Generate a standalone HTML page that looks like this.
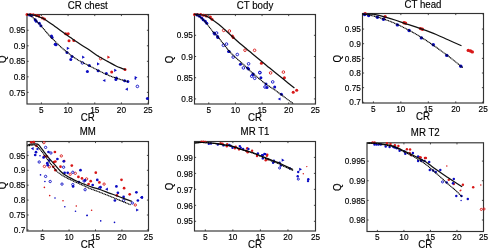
<!DOCTYPE html><html><head><meta charset="utf-8"><style>html,body{margin:0;padding:0;background:#fff;width:488px;height:249px;overflow:hidden}svg{display:block}#w{will-change:transform;width:488px;height:249px}text{font-family:"Liberation Sans", sans-serif;fill:#000;stroke:#000;stroke-width:0.15px}</style></head><body>
<div id="w">
<svg xmlns="http://www.w3.org/2000/svg" width="488" height="249" viewBox="0 0 488 249">
<rect x="27.0" y="14.5" width="121.50" height="89.50" fill="none" stroke="#333" stroke-width="1.15"/>
<clipPath id="c0"><rect x="25.0" y="10.5" width="127.5" height="94.5"/></clipPath>
<g clip-path="url(#c0)">
<circle cx="27.0" cy="14.6" r="1.50" fill="#d81818"/>
<circle cx="30.5" cy="14.6" r="1.50" fill="#d81818"/>
<circle cx="33.2" cy="14.8" r="1.50" fill="#d81818"/>
<circle cx="36.5" cy="15.5" r="1.50" fill="#d81818"/>
<circle cx="38.8" cy="16.1" r="1.50" fill="#d81818"/>
<circle cx="42.5" cy="18.0" r="1.50" fill="#d81818"/>
<circle cx="44.5" cy="19.0" r="1.50" fill="#d81818"/>
<circle cx="65.7" cy="33.7" r="1.50" fill="#d81818"/>
<circle cx="68.2" cy="33.7" r="1.50" fill="#d81818"/>
<circle cx="69.0" cy="40.7" r="1.50" fill="#d81818"/>
<circle cx="73.8" cy="40.4" r="1.50" fill="#d81818"/>
<circle cx="100.7" cy="58.6" r="1.30" fill="none" stroke="#d81818" stroke-width="0.9"/>
<path d="M107.40 55.60L110.20 57.20L107.40 58.80Z" fill="#d81818"/>
<circle cx="111.7" cy="71.9" r="1.50" fill="#d81818"/>
<circle cx="125.0" cy="69.5" r="1.50" fill="#d81818"/>
<circle cx="29.5" cy="15.0" r="1.50" fill="#0c0cc4"/>
<circle cx="31.5" cy="15.6" r="1.50" fill="#0c0cc4"/>
<circle cx="35.2" cy="19.7" r="1.50" fill="#0c0cc4"/>
<circle cx="36.2" cy="21.2" r="1.50" fill="#0c0cc4"/>
<circle cx="39.3" cy="23.3" r="1.50" fill="#0c0cc4"/>
<circle cx="40.9" cy="25.8" r="1.50" fill="#0c0cc4"/>
<circle cx="52.1" cy="37.6" r="1.50" fill="#0c0cc4"/>
<circle cx="51.5" cy="36.0" r="1.50" fill="#0c0cc4"/>
<circle cx="55.2" cy="44.2" r="1.50" fill="#0c0cc4"/>
<circle cx="56.0" cy="44.8" r="1.50" fill="#0c0cc4"/>
<path d="M66.80 46.70L69.60 48.30L66.80 49.90Z" fill="#0c0cc4"/>
<circle cx="67.0" cy="52.4" r="1.50" fill="#0c0cc4"/>
<circle cx="72.0" cy="56.4" r="1.50" fill="#0c0cc4"/>
<circle cx="70.8" cy="59.6" r="1.50" fill="#0c0cc4"/>
<path d="M82.10 55.60L84.90 57.20L82.10 58.80Z" fill="#0c0cc4"/>
<circle cx="82.4" cy="62.9" r="1.30" fill="none" stroke="#0c0cc4" stroke-width="0.9"/>
<circle cx="89.3" cy="65.5" r="1.50" fill="#0c0cc4"/>
<circle cx="87.4" cy="71.6" r="1.50" fill="#0c0cc4"/>
<path d="M97.00 62.30L99.80 63.90L97.00 65.50Z" fill="#0c0cc4"/>
<circle cx="98.1" cy="70.7" r="1.50" fill="#0c0cc4"/>
<circle cx="106.3" cy="73.4" r="1.50" fill="#0c0cc4"/>
<path d="M114.20 68.70L117.00 70.30L114.20 71.90Z" fill="#0c0cc4"/>
<circle cx="116.4" cy="78.0" r="1.50" fill="#0c0cc4"/>
<path d="M105.40 78.90L102.60 80.50L105.40 82.10Z" fill="#0c0cc4"/>
<circle cx="124.6" cy="80.7" r="1.50" fill="#0c0cc4"/>
<circle cx="127.9" cy="81.6" r="1.50" fill="#0c0cc4"/>
<path d="M134.70 75.90L137.50 77.50L134.70 79.10Z" fill="#0c0cc4"/>
<circle cx="115.9" cy="79.4" r="1.50" fill="#0c0cc4"/>
<circle cx="137.4" cy="86.4" r="1.30" fill="none" stroke="#0c0cc4" stroke-width="0.9"/>
<path d="M127.90 87.60L125.10 89.20L127.90 90.80Z" fill="#0c0cc4"/>
<circle cx="147.4" cy="98.5" r="1.50" fill="#0c0cc4"/>
<circle cx="135.4" cy="78.8" r="0.90" fill="#0c0cc4"/>
<path fill="none" stroke="#111" stroke-width="1.25" stroke-linejoin="round" d="M27.00,14.50 C27.67,14.52 29.50,14.42 31.00,14.60 C32.50,14.78 34.50,15.17 36.00,15.60 C37.50,16.03 38.52,16.55 40.00,17.20 C41.48,17.85 42.47,18.00 44.90,19.50 C47.33,21.00 51.37,23.92 54.60,26.20 C57.83,28.48 61.65,31.32 64.30,33.20 C66.95,35.08 68.65,36.20 70.50,37.50 C72.35,38.80 72.77,39.23 75.40,41.00 C78.03,42.77 82.68,45.70 86.30,48.10 C89.92,50.50 94.82,53.88 97.10,55.40 C99.38,56.92 98.18,56.17 100.00,57.20 C101.82,58.23 105.33,60.13 108.00,61.60 C110.67,63.07 113.72,64.88 116.00,66.00 C118.28,67.12 120.08,67.70 121.70,68.30 C123.32,68.90 125.03,69.38 125.70,69.60"/>
<path fill="none" stroke="#000" stroke-width="1.15" stroke-dasharray="1.2 0.45" d="M27.00,14.50 C27.50,14.65 28.67,14.57 30.00,15.40 C31.33,16.23 33.18,17.78 35.00,19.50 C36.82,21.22 38.65,23.18 40.90,25.70 C43.15,28.22 46.65,32.50 48.50,34.60 C50.35,36.70 50.12,36.40 52.00,38.30 C53.88,40.20 57.47,43.83 59.80,46.00 C62.13,48.17 63.77,49.48 66.00,51.30 C68.23,53.12 70.87,55.27 73.20,56.90 C75.53,58.53 77.53,59.72 80.00,61.10 C82.47,62.48 85.33,63.83 88.00,65.20 C90.67,66.57 93.33,67.95 96.00,69.30 C98.67,70.65 101.33,72.07 104.00,73.30 C106.67,74.53 109.33,75.70 112.00,76.70 C114.67,77.70 117.35,78.48 120.00,79.30 C122.65,80.12 126.58,81.22 127.90,81.60"/>
</g>
<path d="M41.40 104.0v-1.6M41.40 14.5v1.6" stroke="#333" stroke-width="0.9"/>
<text transform="translate(41.40 112.65) scale(1 1.08)" font-size="8.3" text-anchor="middle">5</text>
<path d="M68.08 104.0v-1.6M68.08 14.5v1.6" stroke="#333" stroke-width="0.9"/>
<text transform="translate(68.08 112.65) scale(1 1.08)" font-size="8.3" text-anchor="middle">10</text>
<path d="M94.75 104.0v-1.6M94.75 14.5v1.6" stroke="#333" stroke-width="0.9"/>
<text transform="translate(94.75 112.65) scale(1 1.08)" font-size="8.3" text-anchor="middle">15</text>
<path d="M121.42 104.0v-1.6M121.42 14.5v1.6" stroke="#333" stroke-width="0.9"/>
<text transform="translate(121.42 112.65) scale(1 1.08)" font-size="8.3" text-anchor="middle">20</text>
<path d="M148.10 104.0v-1.6M148.10 14.5v1.6" stroke="#333" stroke-width="0.9"/>
<text transform="translate(148.10 112.65) scale(1 1.08)" font-size="8.3" text-anchor="middle">25</text>
<path d="M27.0 92.36h1.6M148.5 92.36h-1.6" stroke="#333" stroke-width="0.9"/>
<text transform="translate(25.40 95.53) scale(1 1.08)" font-size="8.3" text-anchor="end">0.75</text>
<path d="M27.0 76.84h1.6M148.5 76.84h-1.6" stroke="#333" stroke-width="0.9"/>
<text transform="translate(25.40 80.01) scale(1 1.08)" font-size="8.3" text-anchor="end">0.8</text>
<path d="M27.0 61.31h1.6M148.5 61.31h-1.6" stroke="#333" stroke-width="0.9"/>
<text transform="translate(25.40 64.49) scale(1 1.08)" font-size="8.3" text-anchor="end">0.85</text>
<path d="M27.0 45.79h1.6M148.5 45.79h-1.6" stroke="#333" stroke-width="0.9"/>
<text transform="translate(25.40 48.97) scale(1 1.08)" font-size="8.3" text-anchor="end">0.9</text>
<path d="M27.0 30.27h1.6M148.5 30.27h-1.6" stroke="#333" stroke-width="0.9"/>
<text transform="translate(25.40 33.44) scale(1 1.08)" font-size="8.3" text-anchor="end">0.95</text>
<text transform="translate(87.75 8.54) scale(1 1.1)" font-size="9.7" text-anchor="middle">CR chest</text>
<text transform="translate(87.75 120.94) scale(1 1.1)" font-size="9.7" text-anchor="middle">CR</text>
<text transform="translate(6.29 59.30) rotate(-90) scale(1 1.1)" x="0" y="0" font-size="9.7" text-anchor="middle">Q</text>
<rect x="194.5" y="14.5" width="121.00" height="89.50" fill="none" stroke="#333" stroke-width="1.15"/>
<clipPath id="c1"><rect x="192.5" y="10.5" width="127.0" height="94.5"/></clipPath>
<g clip-path="url(#c1)">
<circle cx="194.5" cy="14.6" r="1.50" fill="#d81818"/>
<circle cx="197.5" cy="14.6" r="1.50" fill="#d81818"/>
<circle cx="200.7" cy="14.6" r="1.50" fill="#d81818"/>
<circle cx="203.5" cy="15.2" r="1.50" fill="#d81818"/>
<circle cx="206.3" cy="16.1" r="1.50" fill="#d81818"/>
<circle cx="210.4" cy="17.1" r="1.50" fill="#d81818"/>
<circle cx="212.0" cy="19.2" r="1.50" fill="#d81818"/>
<circle cx="223.7" cy="30.4" r="1.30" fill="none" stroke="#d81818" stroke-width="0.9"/>
<circle cx="229.4" cy="31.0" r="1.30" fill="none" stroke="#d81818" stroke-width="0.9"/>
<circle cx="232.4" cy="36.1" r="1.50" fill="#d81818"/>
<circle cx="233.2" cy="37.6" r="1.50" fill="#d81818"/>
<circle cx="245.0" cy="50.2" r="1.30" fill="none" stroke="#d81818" stroke-width="0.9"/>
<circle cx="254.6" cy="50.3" r="1.30" fill="none" stroke="#d81818" stroke-width="0.9"/>
<circle cx="261.4" cy="63.3" r="1.50" fill="#d81818"/>
<circle cx="270.6" cy="72.9" r="1.30" fill="none" stroke="#d81818" stroke-width="0.9"/>
<circle cx="283.4" cy="72.1" r="1.30" fill="none" stroke="#d81818" stroke-width="0.9"/>
<circle cx="284.4" cy="77.8" r="1.50" fill="#d81818"/>
<circle cx="293.2" cy="92.3" r="1.50" fill="#d81818"/>
<circle cx="296.7" cy="90.2" r="1.50" fill="#d81818"/>
<circle cx="197.1" cy="15.1" r="1.50" fill="#0c0cc4"/>
<circle cx="199.5" cy="16.3" r="1.50" fill="#0c0cc4"/>
<circle cx="201.7" cy="18.1" r="1.50" fill="#0c0cc4"/>
<circle cx="203.2" cy="19.7" r="1.50" fill="#0c0cc4"/>
<circle cx="205.3" cy="21.2" r="1.50" fill="#0c0cc4"/>
<circle cx="206.8" cy="23.3" r="1.50" fill="#0c0cc4"/>
<circle cx="214.0" cy="33.0" r="1.50" fill="#0c0cc4"/>
<circle cx="216.6" cy="33.0" r="1.30" fill="none" stroke="#0c0cc4" stroke-width="0.9"/>
<circle cx="217.6" cy="36.6" r="1.50" fill="#0c0cc4"/>
<circle cx="214.7" cy="34.0" r="1.50" fill="#0c0cc4"/>
<circle cx="217.8" cy="37.6" r="1.50" fill="#0c0cc4"/>
<circle cx="223.4" cy="45.3" r="1.30" fill="none" stroke="#0c0cc4" stroke-width="0.9"/>
<circle cx="226.5" cy="44.1" r="1.30" fill="none" stroke="#0c0cc4" stroke-width="0.9"/>
<circle cx="229.1" cy="51.4" r="1.50" fill="#0c0cc4"/>
<circle cx="233.2" cy="57.1" r="1.30" fill="none" stroke="#0c0cc4" stroke-width="0.9"/>
<circle cx="237.3" cy="54.5" r="1.30" fill="none" stroke="#0c0cc4" stroke-width="0.9"/>
<circle cx="228.6" cy="51.5" r="1.50" fill="#0c0cc4"/>
<circle cx="240.4" cy="64.3" r="1.50" fill="#0c0cc4"/>
<circle cx="248.6" cy="63.8" r="1.30" fill="none" stroke="#0c0cc4" stroke-width="0.9"/>
<circle cx="243.4" cy="67.9" r="1.30" fill="none" stroke="#0c0cc4" stroke-width="0.9"/>
<circle cx="248.6" cy="69.0" r="1.50" fill="#0c0cc4"/>
<circle cx="253.2" cy="74.1" r="1.50" fill="#0c0cc4"/>
<circle cx="259.8" cy="72.5" r="1.30" fill="none" stroke="#0c0cc4" stroke-width="0.9"/>
<circle cx="247.6" cy="68.0" r="1.50" fill="#0c0cc4"/>
<circle cx="252.7" cy="74.7" r="1.50" fill="#0c0cc4"/>
<circle cx="251.7" cy="76.2" r="1.30" fill="none" stroke="#0c0cc4" stroke-width="0.9"/>
<circle cx="254.7" cy="78.3" r="1.30" fill="none" stroke="#0c0cc4" stroke-width="0.9"/>
<circle cx="259.9" cy="72.7" r="1.30" fill="none" stroke="#0c0cc4" stroke-width="0.9"/>
<circle cx="260.9" cy="77.8" r="1.50" fill="#0c0cc4"/>
<circle cx="266.0" cy="83.9" r="1.50" fill="#0c0cc4"/>
<circle cx="265.0" cy="87.0" r="1.30" fill="none" stroke="#0c0cc4" stroke-width="0.9"/>
<circle cx="267.0" cy="87.5" r="1.50" fill="#0c0cc4"/>
<circle cx="272.7" cy="81.9" r="1.30" fill="none" stroke="#0c0cc4" stroke-width="0.9"/>
<circle cx="274.7" cy="87.0" r="1.50" fill="#0c0cc4"/>
<circle cx="281.4" cy="94.3" r="1.50" fill="#0c0cc4"/>
<path d="M280.50 97.40L277.70 99.00L280.50 100.60Z" fill="#0c0cc4"/>
<path fill="none" stroke="#111" stroke-width="1.25" stroke-linejoin="round" d="M194.50,14.20 C195.42,14.25 198.03,14.18 200.00,14.50 C201.97,14.82 204.30,15.27 206.30,16.10 C208.30,16.93 209.95,18.13 212.00,19.50 C214.05,20.87 216.43,22.58 218.60,24.30 C220.77,26.02 222.78,27.82 225.00,29.80 C227.22,31.78 229.40,33.92 231.90,36.20 C234.40,38.48 237.45,41.30 240.00,43.50 C242.55,45.70 245.20,47.73 247.20,49.40 C249.20,51.07 250.13,51.93 252.00,53.50 C253.87,55.07 255.98,56.82 258.40,58.80 C260.82,60.78 263.87,63.23 266.50,65.40 C269.13,67.57 271.30,69.43 274.20,71.80 C277.10,74.17 280.53,76.90 283.90,79.60 C287.27,82.30 292.65,86.60 294.40,88.00"/>
<path fill="none" stroke="#000" stroke-width="1.15" stroke-dasharray="1.2 0.45" d="M194.50,14.20 C195.08,14.47 196.75,15.08 198.00,15.80 C199.25,16.52 200.53,17.17 202.00,18.50 C203.47,19.83 205.13,21.80 206.80,23.80 C208.47,25.80 210.20,28.37 212.00,30.50 C213.80,32.63 215.93,34.68 217.60,36.60 C219.27,38.52 220.08,39.60 222.00,42.00 C223.92,44.40 226.98,48.57 229.10,51.00 C231.22,53.43 232.05,54.10 234.70,56.60 C237.35,59.10 241.75,63.00 245.00,66.00 C248.25,69.00 250.70,71.58 254.20,74.60 C257.70,77.62 262.42,81.43 266.00,84.10 C269.58,86.77 272.53,88.37 275.70,90.60 C278.87,92.83 282.08,95.33 285.00,97.50 C287.92,99.67 291.83,102.58 293.20,103.60"/>
</g>
<path d="M208.75 104.0v-1.6M208.75 14.5v1.6" stroke="#333" stroke-width="0.9"/>
<text transform="translate(208.75 112.65) scale(1 1.08)" font-size="8.3" text-anchor="middle">5</text>
<path d="M235.40 104.0v-1.6M235.40 14.5v1.6" stroke="#333" stroke-width="0.9"/>
<text transform="translate(235.40 112.65) scale(1 1.08)" font-size="8.3" text-anchor="middle">10</text>
<path d="M262.05 104.0v-1.6M262.05 14.5v1.6" stroke="#333" stroke-width="0.9"/>
<text transform="translate(262.05 112.65) scale(1 1.08)" font-size="8.3" text-anchor="middle">15</text>
<path d="M288.70 104.0v-1.6M288.70 14.5v1.6" stroke="#333" stroke-width="0.9"/>
<text transform="translate(288.70 112.65) scale(1 1.08)" font-size="8.3" text-anchor="middle">20</text>
<path d="M315.35 104.0v-1.6M315.35 14.5v1.6" stroke="#333" stroke-width="0.9"/>
<text transform="translate(315.35 112.65) scale(1 1.08)" font-size="8.3" text-anchor="middle">25</text>
<path d="M194.5 98.90h1.6M315.5 98.90h-1.6" stroke="#333" stroke-width="0.9"/>
<text transform="translate(192.90 102.07) scale(1 1.08)" font-size="8.3" text-anchor="end">0.8</text>
<path d="M194.5 77.70h1.6M315.5 77.70h-1.6" stroke="#333" stroke-width="0.9"/>
<text transform="translate(192.90 80.87) scale(1 1.08)" font-size="8.3" text-anchor="end">0.85</text>
<path d="M194.5 56.50h1.6M315.5 56.50h-1.6" stroke="#333" stroke-width="0.9"/>
<text transform="translate(192.90 59.67) scale(1 1.08)" font-size="8.3" text-anchor="end">0.9</text>
<path d="M194.5 35.30h1.6M315.5 35.30h-1.6" stroke="#333" stroke-width="0.9"/>
<text transform="translate(192.90 38.47) scale(1 1.08)" font-size="8.3" text-anchor="end">0.95</text>
<text transform="translate(255.00 8.54) scale(1 1.1)" font-size="9.7" text-anchor="middle">CT body</text>
<text transform="translate(255.00 120.94) scale(1 1.1)" font-size="9.7" text-anchor="middle">CR</text>
<text transform="translate(173.19 59.50) rotate(-90) scale(1 1.1)" x="0" y="0" font-size="9.7" text-anchor="middle">Q</text>
<rect x="362.5" y="13.5" width="121.00" height="89.50" fill="none" stroke="#333" stroke-width="1.15"/>
<clipPath id="c2"><rect x="360.5" y="9.5" width="127.0" height="94.5"/></clipPath>
<g clip-path="url(#c2)">
<circle cx="365.1" cy="13.8" r="1.72" fill="#d81818"/>
<circle cx="385.1" cy="16.7" r="1.72" fill="#d81818"/>
<circle cx="404.0" cy="22.8" r="1.72" fill="#d81818"/>
<circle cx="405.5" cy="23.1" r="1.72" fill="#d81818"/>
<circle cx="422.4" cy="29.2" r="1.72" fill="#d81818"/>
<circle cx="420.5" cy="28.6" r="1.72" fill="#d81818"/>
<circle cx="468.3" cy="50.4" r="1.72" fill="#d81818"/>
<circle cx="470.5" cy="51.0" r="1.72" fill="#d81818"/>
<circle cx="472.3" cy="51.9" r="1.72" fill="#d81818"/>
<circle cx="364.6" cy="14.6" r="1.72" fill="#0c0cc4"/>
<circle cx="368.7" cy="15.6" r="1.72" fill="#0c0cc4"/>
<circle cx="377.4" cy="17.2" r="1.72" fill="#0c0cc4"/>
<circle cx="383.5" cy="19.2" r="1.72" fill="#0c0cc4"/>
<circle cx="397.4" cy="24.9" r="1.72" fill="#0c0cc4"/>
<circle cx="409.1" cy="30.5" r="1.72" fill="#0c0cc4"/>
<circle cx="421.4" cy="37.9" r="1.72" fill="#0c0cc4"/>
<circle cx="433.3" cy="44.8" r="1.72" fill="#0c0cc4"/>
<circle cx="446.8" cy="55.4" r="1.72" fill="#0c0cc4"/>
<circle cx="460.8" cy="66.2" r="1.72" fill="#0c0cc4"/>
<path fill="none" stroke="#111" stroke-width="1.25" stroke-linejoin="round" d="M362.50,14.10 C363.95,14.10 368.62,13.92 371.20,14.10 C373.78,14.28 375.60,14.68 378.00,15.20 C380.40,15.72 382.77,16.40 385.60,17.20 C388.43,18.00 391.77,18.93 395.00,20.00 C398.23,21.07 402.33,22.72 405.00,23.60 C407.67,24.48 408.17,24.38 411.00,25.30 C413.83,26.22 417.80,27.57 422.00,29.10 C426.20,30.63 431.87,32.72 436.20,34.50 C440.53,36.28 443.78,37.92 448.00,39.80 C452.22,41.68 459.25,44.80 461.50,45.80"/>
<path fill="none" stroke="#000" stroke-width="1.15" stroke-dasharray="1.2 0.45" d="M362.50,14.00 C364.02,14.27 368.55,14.92 371.60,15.60 C374.65,16.28 377.75,17.15 380.80,18.10 C383.85,19.05 386.87,20.12 389.90,21.30 C392.93,22.48 395.97,23.78 399.00,25.20 C402.03,26.62 405.05,28.18 408.10,29.80 C411.15,31.42 414.25,33.10 417.30,34.90 C420.35,36.70 423.37,38.62 426.40,40.60 C429.43,42.58 432.47,44.67 435.50,46.80 C438.53,48.93 441.55,51.13 444.60,53.40 C447.65,55.67 450.75,58.00 453.80,60.40 C456.85,62.80 461.38,66.57 462.90,67.80"/>
</g>
<path d="M373.40 103.0v-1.6M373.40 13.5v1.6" stroke="#333" stroke-width="0.9"/>
<text transform="translate(373.40 111.65) scale(1 1.08)" font-size="8.3" text-anchor="middle">5</text>
<path d="M400.85 103.0v-1.6M400.85 13.5v1.6" stroke="#333" stroke-width="0.9"/>
<text transform="translate(400.85 111.65) scale(1 1.08)" font-size="8.3" text-anchor="middle">10</text>
<path d="M428.30 103.0v-1.6M428.30 13.5v1.6" stroke="#333" stroke-width="0.9"/>
<text transform="translate(428.30 111.65) scale(1 1.08)" font-size="8.3" text-anchor="middle">15</text>
<path d="M455.75 103.0v-1.6M455.75 13.5v1.6" stroke="#333" stroke-width="0.9"/>
<text transform="translate(455.75 111.65) scale(1 1.08)" font-size="8.3" text-anchor="middle">20</text>
<path d="M483.20 103.0v-1.6M483.20 13.5v1.6" stroke="#333" stroke-width="0.9"/>
<text transform="translate(483.20 111.65) scale(1 1.08)" font-size="8.3" text-anchor="middle">25</text>
<path d="M362.5 102.30h1.6M483.5 102.30h-1.6" stroke="#333" stroke-width="0.9"/>
<text transform="translate(360.90 105.47) scale(1 1.08)" font-size="8.3" text-anchor="end">0.7</text>
<path d="M362.5 87.65h1.6M483.5 87.65h-1.6" stroke="#333" stroke-width="0.9"/>
<text transform="translate(360.90 90.82) scale(1 1.08)" font-size="8.3" text-anchor="end">0.75</text>
<path d="M362.5 73.00h1.6M483.5 73.00h-1.6" stroke="#333" stroke-width="0.9"/>
<text transform="translate(360.90 76.17) scale(1 1.08)" font-size="8.3" text-anchor="end">0.8</text>
<path d="M362.5 58.35h1.6M483.5 58.35h-1.6" stroke="#333" stroke-width="0.9"/>
<text transform="translate(360.90 61.52) scale(1 1.08)" font-size="8.3" text-anchor="end">0.85</text>
<path d="M362.5 43.70h1.6M483.5 43.70h-1.6" stroke="#333" stroke-width="0.9"/>
<text transform="translate(360.90 46.87) scale(1 1.08)" font-size="8.3" text-anchor="end">0.9</text>
<path d="M362.5 29.05h1.6M483.5 29.05h-1.6" stroke="#333" stroke-width="0.9"/>
<text transform="translate(360.90 32.22) scale(1 1.08)" font-size="8.3" text-anchor="end">0.95</text>
<text transform="translate(423.00 7.54) scale(1 1.1)" font-size="9.7" text-anchor="middle">CT head</text>
<text transform="translate(423.00 119.94) scale(1 1.1)" font-size="9.7" text-anchor="middle">CR</text>
<text transform="translate(340.99 58.60) rotate(-90) scale(1 1.1)" x="0" y="0" font-size="9.7" text-anchor="middle">Q</text>
<rect x="27.0" y="141.5" width="121.50" height="89.50" fill="none" stroke="#333" stroke-width="1.15"/>
<clipPath id="c3"><rect x="25.0" y="137.5" width="127.5" height="94.5"/></clipPath>
<g clip-path="url(#c3)">
<circle cx="31.3" cy="142.3" r="1.35" fill="#d81818"/>
<circle cx="33.8" cy="142.2" r="1.35" fill="#d81818"/>
<circle cx="43.9" cy="142.6" r="1.17" fill="none" stroke="#d81818" stroke-width="0.9"/>
<circle cx="36.4" cy="145.8" r="1.35" fill="#d81818"/>
<circle cx="44.4" cy="156.4" r="1.35" fill="#d81818"/>
<circle cx="46.9" cy="156.4" r="1.35" fill="#d81818"/>
<circle cx="54.9" cy="152.0" r="1.35" fill="#d81818"/>
<circle cx="61.3" cy="155.9" r="1.17" fill="none" stroke="#d81818" stroke-width="0.9"/>
<circle cx="55.4" cy="161.5" r="1.35" fill="#d81818"/>
<circle cx="54.1" cy="162.0" r="1.35" fill="#d81818"/>
<circle cx="44.4" cy="166.4" r="1.17" fill="none" stroke="#d81818" stroke-width="0.9"/>
<circle cx="49.3" cy="166.8" r="1.17" fill="none" stroke="#d81818" stroke-width="0.9"/>
<circle cx="53.3" cy="166.8" r="1.35" fill="#d81818"/>
<circle cx="64.1" cy="161.0" r="1.35" fill="#d81818"/>
<circle cx="60.5" cy="166.7" r="1.35" fill="#d81818"/>
<circle cx="71.8" cy="165.6" r="1.35" fill="#d81818"/>
<circle cx="55.4" cy="170.2" r="1.35" fill="#d81818"/>
<circle cx="70.2" cy="174.3" r="1.17" fill="none" stroke="#d81818" stroke-width="0.9"/>
<circle cx="75.3" cy="173.3" r="1.17" fill="none" stroke="#d81818" stroke-width="0.9"/>
<circle cx="78.4" cy="176.9" r="1.35" fill="#d81818"/>
<circle cx="82.0" cy="178.4" r="1.35" fill="#d81818"/>
<circle cx="86.6" cy="178.9" r="1.17" fill="none" stroke="#d81818" stroke-width="0.9"/>
<circle cx="88.6" cy="184.0" r="1.35" fill="#d81818"/>
<circle cx="90.7" cy="181.2" r="1.35" fill="#d81818"/>
<circle cx="95.8" cy="172.7" r="1.35" fill="#d81818"/>
<circle cx="99.4" cy="182.4" r="1.35" fill="#d81818"/>
<circle cx="104.1" cy="184.1" r="1.17" fill="none" stroke="#d81818" stroke-width="0.9"/>
<circle cx="121.5" cy="179.8" r="1.35" fill="#d81818"/>
<circle cx="124.1" cy="188.2" r="1.35" fill="#d81818"/>
<circle cx="129.7" cy="194.3" r="1.35" fill="#d81818"/>
<circle cx="116.9" cy="195.4" r="1.35" fill="#d81818"/>
<circle cx="135.3" cy="205.0" r="1.17" fill="none" stroke="#d81818" stroke-width="0.9"/>
<circle cx="44.4" cy="187.4" r="0.81" fill="#d81818"/>
<circle cx="49.7" cy="195.6" r="0.81" fill="#d81818"/>
<circle cx="63.0" cy="200.8" r="0.81" fill="#d81818"/>
<circle cx="76.3" cy="206.0" r="0.81" fill="#d81818"/>
<circle cx="91.6" cy="210.2" r="0.81" fill="#d81818"/>
<path d="M33.60 147.00L30.80 148.60L33.60 150.20Z" fill="#0c0cc4"/>
<path d="M38.40 147.40L35.60 149.00L38.40 150.60Z" fill="#0c0cc4"/>
<circle cx="36.0" cy="152.2" r="1.35" fill="#0c0cc4"/>
<circle cx="35.2" cy="155.0" r="1.35" fill="#0c0cc4"/>
<circle cx="39.2" cy="162.0" r="1.17" fill="none" stroke="#0c0cc4" stroke-width="0.9"/>
<circle cx="40.0" cy="155.8" r="0.81" fill="#0c0cc4"/>
<circle cx="43.6" cy="157.4" r="1.35" fill="#0c0cc4"/>
<circle cx="45.6" cy="147.4" r="1.17" fill="none" stroke="#0c0cc4" stroke-width="0.9"/>
<circle cx="48.5" cy="152.0" r="1.35" fill="#0c0cc4"/>
<circle cx="50.9" cy="153.0" r="1.17" fill="none" stroke="#0c0cc4" stroke-width="0.9"/>
<circle cx="49.3" cy="160.4" r="1.35" fill="#0c0cc4"/>
<circle cx="47.3" cy="163.2" r="1.35" fill="#0c0cc4"/>
<circle cx="47.7" cy="165.2" r="1.35" fill="#0c0cc4"/>
<circle cx="57.4" cy="159.0" r="1.35" fill="#0c0cc4"/>
<circle cx="63.8" cy="161.3" r="1.35" fill="#0c0cc4"/>
<circle cx="63.6" cy="167.2" r="1.17" fill="none" stroke="#0c0cc4" stroke-width="0.9"/>
<circle cx="64.6" cy="172.8" r="1.35" fill="#0c0cc4"/>
<circle cx="67.7" cy="172.8" r="1.35" fill="#0c0cc4"/>
<circle cx="72.8" cy="172.3" r="1.17" fill="none" stroke="#0c0cc4" stroke-width="0.9"/>
<circle cx="80.5" cy="170.2" r="1.35" fill="#0c0cc4"/>
<circle cx="40.5" cy="174.9" r="0.81" fill="#0c0cc4"/>
<circle cx="45.6" cy="176.4" r="1.17" fill="none" stroke="#0c0cc4" stroke-width="0.9"/>
<circle cx="44.9" cy="181.5" r="0.81" fill="#0c0cc4"/>
<circle cx="50.2" cy="181.5" r="1.17" fill="none" stroke="#0c0cc4" stroke-width="0.9"/>
<circle cx="62.0" cy="184.1" r="1.17" fill="none" stroke="#0c0cc4" stroke-width="0.9"/>
<circle cx="72.8" cy="184.6" r="1.17" fill="none" stroke="#0c0cc4" stroke-width="0.9"/>
<circle cx="78.9" cy="182.0" r="1.35" fill="#0c0cc4"/>
<circle cx="84.1" cy="181.0" r="1.17" fill="none" stroke="#0c0cc4" stroke-width="0.9"/>
<circle cx="85.0" cy="180.4" r="1.35" fill="#0c0cc4"/>
<circle cx="73.1" cy="186.4" r="1.35" fill="#0c0cc4"/>
<circle cx="55.0" cy="198.0" r="0.81" fill="#0c0cc4"/>
<circle cx="64.8" cy="206.7" r="0.81" fill="#0c0cc4"/>
<circle cx="75.5" cy="211.3" r="0.81" fill="#0c0cc4"/>
<circle cx="87.0" cy="215.6" r="0.81" fill="#0c0cc4"/>
<circle cx="85.1" cy="189.7" r="1.17" fill="none" stroke="#0c0cc4" stroke-width="0.9"/>
<circle cx="97.3" cy="179.9" r="1.35" fill="#0c0cc4"/>
<circle cx="92.7" cy="185.0" r="1.35" fill="#0c0cc4"/>
<circle cx="99.4" cy="188.0" r="1.17" fill="none" stroke="#0c0cc4" stroke-width="0.9"/>
<circle cx="100.5" cy="187.2" r="1.35" fill="#0c0cc4"/>
<path d="M107.90 187.60L105.10 189.20L107.90 190.80Z" fill="#0c0cc4"/>
<circle cx="116.4" cy="186.4" r="1.35" fill="#0c0cc4"/>
<circle cx="117.9" cy="192.8" r="1.35" fill="#0c0cc4"/>
<circle cx="114.9" cy="200.5" r="1.35" fill="#0c0cc4"/>
<circle cx="123.6" cy="196.9" r="1.35" fill="#0c0cc4"/>
<circle cx="123.6" cy="200.5" r="1.17" fill="none" stroke="#0c0cc4" stroke-width="0.9"/>
<circle cx="136.4" cy="192.3" r="1.35" fill="#0c0cc4"/>
<path d="M142.70 195.80L139.90 197.40L142.70 199.00Z" fill="#0c0cc4"/>
<circle cx="137.9" cy="200.5" r="1.35" fill="#0c0cc4"/>
<circle cx="132.3" cy="203.0" r="1.17" fill="none" stroke="#0c0cc4" stroke-width="0.9"/>
<path d="M136.10 208.40L138.90 210.00L136.10 211.60Z" fill="#0c0cc4"/>
<circle cx="87.1" cy="215.3" r="0.81" fill="#0c0cc4"/>
<circle cx="100.7" cy="220.9" r="0.81" fill="#0c0cc4"/>
<circle cx="114.5" cy="222.4" r="0.81" fill="#0c0cc4"/>
<circle cx="141.9" cy="197.4" r="1.35" fill="#0c0cc4"/>
<path fill="none" stroke="#111" stroke-width="1.25" stroke-linejoin="round" d="M27.30,145.40 C27.92,145.20 29.28,144.42 31.00,144.20 C32.72,143.98 35.93,143.50 37.60,144.10 C39.27,144.70 39.93,146.52 41.00,147.80 C42.07,149.08 43.00,150.47 44.00,151.80 C45.00,153.13 45.97,154.50 47.00,155.80 C48.03,157.10 48.98,158.22 50.20,159.60 C51.42,160.98 52.58,162.17 54.30,164.10 C56.02,166.03 58.62,169.33 60.50,171.20 C62.38,173.07 63.90,174.15 65.60,175.30 C67.30,176.45 68.80,177.12 70.70,178.10 C72.60,179.08 74.60,180.13 77.00,181.20 C79.40,182.27 82.60,183.52 85.10,184.50 C87.60,185.48 89.52,186.27 92.00,187.10 C94.48,187.93 97.00,188.47 100.00,189.50 C103.00,190.53 106.67,192.05 110.00,193.30 C113.33,194.55 116.37,195.65 120.00,197.00 C123.63,198.35 129.83,200.67 131.80,201.40"/>
<path fill="none" stroke="#000" stroke-width="1.15" stroke-dasharray="1.2 0.45" d="M27.30,146.00 C27.92,145.88 29.75,145.47 31.00,145.30 C32.25,145.13 33.72,144.75 34.80,145.00 C35.88,145.25 36.57,146.00 37.50,146.80 C38.43,147.60 39.12,148.27 40.40,149.80 C41.68,151.33 43.93,154.25 45.20,156.00 C46.47,157.75 46.82,158.67 48.00,160.30 C49.18,161.93 50.80,163.95 52.30,165.80 C53.80,167.65 55.38,169.83 57.00,171.40 C58.62,172.97 60.17,174.00 62.00,175.20 C63.83,176.40 65.67,177.42 68.00,178.60 C70.33,179.78 73.33,181.10 76.00,182.30 C78.67,183.50 81.65,184.75 84.00,185.80 C86.35,186.85 87.43,187.52 90.10,188.60 C92.77,189.68 96.68,191.02 100.00,192.30 C103.32,193.58 106.67,194.95 110.00,196.30 C113.33,197.65 116.55,198.98 120.00,200.40 C123.45,201.82 128.92,204.07 130.70,204.80"/>
</g>
<path d="M42.60 231.0v-1.6M42.60 141.5v1.6" stroke="#333" stroke-width="0.9"/>
<text transform="translate(42.60 239.65) scale(1 1.08)" font-size="8.3" text-anchor="middle">5</text>
<path d="M69.05 231.0v-1.6M69.05 141.5v1.6" stroke="#333" stroke-width="0.9"/>
<text transform="translate(69.05 239.65) scale(1 1.08)" font-size="8.3" text-anchor="middle">10</text>
<path d="M95.50 231.0v-1.6M95.50 141.5v1.6" stroke="#333" stroke-width="0.9"/>
<text transform="translate(95.50 239.65) scale(1 1.08)" font-size="8.3" text-anchor="middle">15</text>
<path d="M121.95 231.0v-1.6M121.95 141.5v1.6" stroke="#333" stroke-width="0.9"/>
<text transform="translate(121.95 239.65) scale(1 1.08)" font-size="8.3" text-anchor="middle">20</text>
<path d="M148.40 231.0v-1.6M148.40 141.5v1.6" stroke="#333" stroke-width="0.9"/>
<text transform="translate(148.40 239.65) scale(1 1.08)" font-size="8.3" text-anchor="middle">25</text>
<path d="M27.0 229.90h1.6M148.5 229.90h-1.6" stroke="#333" stroke-width="0.9"/>
<text transform="translate(25.40 233.07) scale(1 1.08)" font-size="8.3" text-anchor="end">0.7</text>
<path d="M27.0 215.00h1.6M148.5 215.00h-1.6" stroke="#333" stroke-width="0.9"/>
<text transform="translate(25.40 218.17) scale(1 1.08)" font-size="8.3" text-anchor="end">0.75</text>
<path d="M27.0 200.10h1.6M148.5 200.10h-1.6" stroke="#333" stroke-width="0.9"/>
<text transform="translate(25.40 203.27) scale(1 1.08)" font-size="8.3" text-anchor="end">0.8</text>
<path d="M27.0 185.20h1.6M148.5 185.20h-1.6" stroke="#333" stroke-width="0.9"/>
<text transform="translate(25.40 188.37) scale(1 1.08)" font-size="8.3" text-anchor="end">0.85</text>
<path d="M27.0 170.30h1.6M148.5 170.30h-1.6" stroke="#333" stroke-width="0.9"/>
<text transform="translate(25.40 173.47) scale(1 1.08)" font-size="8.3" text-anchor="end">0.9</text>
<path d="M27.0 155.40h1.6M148.5 155.40h-1.6" stroke="#333" stroke-width="0.9"/>
<text transform="translate(25.40 158.57) scale(1 1.08)" font-size="8.3" text-anchor="end">0.95</text>
<text transform="translate(87.75 134.94) scale(1 1.1)" font-size="9.7" text-anchor="middle">MM</text>
<text transform="translate(87.75 247.94) scale(1 1.1)" font-size="9.7" text-anchor="middle">CR</text>
<text transform="translate(5.89 185.50) rotate(-90) scale(1 1.1)" x="0" y="0" font-size="9.7" text-anchor="middle">Q</text>
<rect x="194.5" y="141.5" width="121.00" height="89.50" fill="none" stroke="#333" stroke-width="1.15"/>
<clipPath id="c4"><rect x="192.5" y="137.5" width="127.0" height="94.5"/></clipPath>
<g clip-path="url(#c4)">
<circle cx="201.5" cy="141.8" r="1.20" fill="#d81818"/>
<circle cx="203.5" cy="141.7" r="1.20" fill="#d81818"/>
<circle cx="205.5" cy="142.0" r="1.20" fill="#d81818"/>
<circle cx="220.6" cy="143.3" r="1.20" fill="#d81818"/>
<circle cx="222.5" cy="143.6" r="1.20" fill="#d81818"/>
<circle cx="227.2" cy="144.1" r="1.20" fill="#d81818"/>
<circle cx="226.8" cy="146.2" r="1.20" fill="#d81818"/>
<circle cx="235.7" cy="146.6" r="1.20" fill="#d81818"/>
<circle cx="234.9" cy="148.2" r="1.20" fill="#d81818"/>
<circle cx="239.0" cy="149.4" r="1.20" fill="#d81818"/>
<circle cx="247.2" cy="148.2" r="1.20" fill="#d81818"/>
<circle cx="246.4" cy="150.7" r="1.20" fill="#d81818"/>
<circle cx="247.6" cy="152.3" r="1.20" fill="#d81818"/>
<circle cx="252.1" cy="150.7" r="1.20" fill="#d81818"/>
<circle cx="257.0" cy="156.0" r="1.20" fill="#d81818"/>
<circle cx="267.3" cy="154.8" r="1.20" fill="#d81818"/>
<circle cx="267.7" cy="159.3" r="1.20" fill="#d81818"/>
<circle cx="266.9" cy="155.7" r="1.20" fill="#d81818"/>
<circle cx="265.7" cy="160.2" r="1.20" fill="#d81818"/>
<circle cx="306.8" cy="166.6" r="0.72" fill="#d81818"/>
<circle cx="303.3" cy="173.7" r="0.72" fill="#d81818"/>
<circle cx="208.8" cy="143.7" r="1.20" fill="#0c0cc4"/>
<circle cx="211" cy="143.5" r="1.20" fill="#0c0cc4"/>
<circle cx="217.8" cy="144.6" r="1.20" fill="#0c0cc4"/>
<circle cx="223.5" cy="145.4" r="1.20" fill="#0c0cc4"/>
<circle cx="229.2" cy="145.0" r="1.20" fill="#0c0cc4"/>
<circle cx="232.5" cy="147.8" r="1.20" fill="#0c0cc4"/>
<circle cx="230.4" cy="145.7" r="1.20" fill="#0c0cc4"/>
<circle cx="239.8" cy="146.1" r="1.20" fill="#0c0cc4"/>
<circle cx="240.7" cy="147.8" r="1.20" fill="#0c0cc4"/>
<circle cx="243.1" cy="149.0" r="1.20" fill="#0c0cc4"/>
<circle cx="248.4" cy="149.0" r="1.20" fill="#0c0cc4"/>
<circle cx="257.9" cy="153.5" r="1.20" fill="#0c0cc4"/>
<circle cx="262.0" cy="155.2" r="1.20" fill="#0c0cc4"/>
<circle cx="264.4" cy="153.9" r="1.20" fill="#0c0cc4"/>
<circle cx="262.8" cy="158.4" r="1.20" fill="#0c0cc4"/>
<circle cx="262.8" cy="155.3" r="1.20" fill="#0c0cc4"/>
<circle cx="265.3" cy="154.1" r="1.20" fill="#0c0cc4"/>
<circle cx="273.9" cy="160.7" r="1.20" fill="#0c0cc4"/>
<circle cx="273.1" cy="162.7" r="1.20" fill="#0c0cc4"/>
<path d="M281.70 158.60L284.50 160.20L281.70 161.80Z" fill="#0c0cc4"/>
<circle cx="279.6" cy="162.7" r="1.20" fill="#0c0cc4"/>
<circle cx="280.9" cy="165.6" r="1.20" fill="#0c0cc4"/>
<circle cx="279.6" cy="168.0" r="1.04" fill="none" stroke="#0c0cc4" stroke-width="0.9"/>
<circle cx="289.9" cy="168.4" r="1.20" fill="#0c0cc4"/>
<path d="M299.20 167.70L302.00 169.30L299.20 170.90Z" fill="#0c0cc4"/>
<circle cx="298.2" cy="172.0" r="1.20" fill="#0c0cc4"/>
<circle cx="297.7" cy="176.3" r="1.20" fill="#0c0cc4"/>
<circle cx="298.3" cy="179.1" r="1.04" fill="none" stroke="#0c0cc4" stroke-width="0.9"/>
<circle cx="308.3" cy="179.3" r="1.20" fill="#0c0cc4"/>
<circle cx="308.0" cy="181.1" r="1.20" fill="#0c0cc4"/>
<path fill="none" stroke="#111" stroke-width="1.25" stroke-linejoin="round" d="M194.80,142.90 C196.03,142.83 198.92,142.43 202.20,142.50 C205.48,142.57 211.08,142.95 214.50,143.30 C217.92,143.65 220.12,144.22 222.70,144.60 C225.28,144.98 228.12,145.23 230.00,145.60 C231.88,145.97 232.33,146.27 234.00,146.80 C235.67,147.33 238.00,148.17 240.00,148.80 C242.00,149.43 243.70,149.90 246.00,150.60 C248.30,151.30 251.47,152.18 253.80,153.00 C256.13,153.82 258.08,154.72 260.00,155.50 C261.92,156.28 263.30,156.88 265.30,157.70 C267.30,158.52 269.82,159.57 272.00,160.40 C274.18,161.23 276.23,161.80 278.40,162.70 C280.57,163.60 282.55,164.67 285.00,165.80 C287.45,166.93 291.75,168.88 293.10,169.50"/>
<path fill="none" stroke="#000" stroke-width="1.15" stroke-dasharray="1.2 0.45" d="M194.80,142.90 C196.03,142.83 198.92,142.42 202.20,142.50 C205.48,142.58 211.08,143.03 214.50,143.40 C217.92,143.77 220.12,144.30 222.70,144.70 C225.28,145.10 228.12,145.42 230.00,145.80 C231.88,146.18 232.33,146.45 234.00,147.00 C235.67,147.55 238.00,148.43 240.00,149.10 C242.00,149.77 243.70,150.27 246.00,151.00 C248.30,151.73 251.47,152.65 253.80,153.50 C256.13,154.35 258.08,155.28 260.00,156.10 C261.92,156.92 263.30,157.55 265.30,158.40 C267.30,159.25 269.82,160.33 272.00,161.20 C274.18,162.07 276.23,162.67 278.40,163.60 C280.57,164.53 282.55,165.63 285.00,166.80 C287.45,167.97 291.75,169.97 293.10,170.60"/>
</g>
<path d="M205.30 231.0v-1.6M205.30 141.5v1.6" stroke="#333" stroke-width="0.9"/>
<text transform="translate(205.30 239.65) scale(1 1.08)" font-size="8.3" text-anchor="middle">5</text>
<path d="M232.85 231.0v-1.6M232.85 141.5v1.6" stroke="#333" stroke-width="0.9"/>
<text transform="translate(232.85 239.65) scale(1 1.08)" font-size="8.3" text-anchor="middle">10</text>
<path d="M260.40 231.0v-1.6M260.40 141.5v1.6" stroke="#333" stroke-width="0.9"/>
<text transform="translate(260.40 239.65) scale(1 1.08)" font-size="8.3" text-anchor="middle">15</text>
<path d="M287.95 231.0v-1.6M287.95 141.5v1.6" stroke="#333" stroke-width="0.9"/>
<text transform="translate(287.95 239.65) scale(1 1.08)" font-size="8.3" text-anchor="middle">20</text>
<path d="M315.50 231.0v-1.6M315.50 141.5v1.6" stroke="#333" stroke-width="0.9"/>
<text transform="translate(315.50 239.65) scale(1 1.08)" font-size="8.3" text-anchor="middle">25</text>
<path d="M194.5 221.30h1.6M315.5 221.30h-1.6" stroke="#333" stroke-width="0.9"/>
<text transform="translate(192.90 224.47) scale(1 1.08)" font-size="8.3" text-anchor="end">0.95</text>
<path d="M194.5 205.33h1.6M315.5 205.33h-1.6" stroke="#333" stroke-width="0.9"/>
<text transform="translate(192.90 208.50) scale(1 1.08)" font-size="8.3" text-anchor="end">0.96</text>
<path d="M194.5 189.35h1.6M315.5 189.35h-1.6" stroke="#333" stroke-width="0.9"/>
<text transform="translate(192.90 192.52) scale(1 1.08)" font-size="8.3" text-anchor="end">0.97</text>
<path d="M194.5 173.38h1.6M315.5 173.38h-1.6" stroke="#333" stroke-width="0.9"/>
<text transform="translate(192.90 176.55) scale(1 1.08)" font-size="8.3" text-anchor="end">0.98</text>
<path d="M194.5 157.40h1.6M315.5 157.40h-1.6" stroke="#333" stroke-width="0.9"/>
<text transform="translate(192.90 160.57) scale(1 1.08)" font-size="8.3" text-anchor="end">0.99</text>
<text transform="translate(255.00 134.94) scale(1 1.1)" font-size="9.7" text-anchor="middle">MR T1</text>
<text transform="translate(255.00 247.94) scale(1 1.1)" font-size="9.7" text-anchor="middle">CR</text>
<text transform="translate(173.09 186.50) rotate(-90) scale(1 1.1)" x="0" y="0" font-size="9.7" text-anchor="middle">Q</text>
<rect x="367.0" y="142.8" width="116.50" height="88.70" fill="none" stroke="#333" stroke-width="1.15"/>
<clipPath id="c5"><rect x="365.0" y="138.8" width="122.5" height="93.69999999999999"/></clipPath>
<g clip-path="url(#c5)">
<circle cx="372.6" cy="142.6" r="1.23" fill="#d81818"/>
<circle cx="374.6" cy="142.5" r="1.23" fill="#d81818"/>
<circle cx="387.0" cy="143.3" r="1.23" fill="#d81818"/>
<circle cx="390.5" cy="144.0" r="1.23" fill="#d81818"/>
<circle cx="394.9" cy="145.2" r="1.23" fill="#d81818"/>
<circle cx="398.4" cy="146.0" r="1.23" fill="#d81818"/>
<circle cx="406.9" cy="149.2" r="1.23" fill="#d81818"/>
<circle cx="410.1" cy="149.6" r="1.23" fill="#d81818"/>
<circle cx="409.7" cy="152.9" r="1.23" fill="#d81818"/>
<circle cx="410.9" cy="154.9" r="1.23" fill="#d81818"/>
<circle cx="419.7" cy="157.3" r="1.23" fill="#d81818"/>
<circle cx="425.0" cy="158.1" r="1.23" fill="#d81818"/>
<circle cx="420.7" cy="157.5" r="1.23" fill="#d81818"/>
<circle cx="425.9" cy="158.1" r="1.23" fill="#d81818"/>
<circle cx="446.8" cy="165.9" r="0.74" fill="#d81818"/>
<circle cx="448.8" cy="179.8" r="1.23" fill="#d81818"/>
<circle cx="453.8" cy="184.0" r="1.23" fill="#d81818"/>
<circle cx="462.9" cy="184.7" r="1.23" fill="#d81818"/>
<circle cx="460.8" cy="190.3" r="0.74" fill="#d81818"/>
<circle cx="473.2" cy="187.2" r="1.23" fill="#d81818"/>
<circle cx="480.8" cy="185.0" r="0.74" fill="#d81818"/>
<circle cx="460.2" cy="190.8" r="0.74" fill="#d81818"/>
<circle cx="481.3" cy="209.4" r="1.07" fill="none" stroke="#d81818" stroke-width="0.9"/>
<circle cx="484.0" cy="209.0" r="1.07" fill="none" stroke="#d81818" stroke-width="0.9"/>
<circle cx="374.5" cy="144.4" r="1.23" fill="#0c0cc4"/>
<circle cx="376.5" cy="144.6" r="1.23" fill="#0c0cc4"/>
<circle cx="378.5" cy="144.6" r="1.23" fill="#0c0cc4"/>
<circle cx="380.8" cy="144.6" r="1.23" fill="#0c0cc4"/>
<circle cx="385.7" cy="146.5" r="1.23" fill="#0c0cc4"/>
<circle cx="389.6" cy="146.9" r="1.23" fill="#0c0cc4"/>
<circle cx="393.5" cy="146.9" r="1.23" fill="#0c0cc4"/>
<circle cx="396.8" cy="148.2" r="1.23" fill="#0c0cc4"/>
<circle cx="394.8" cy="147.6" r="1.23" fill="#0c0cc4"/>
<circle cx="399.6" cy="150.8" r="1.23" fill="#0c0cc4"/>
<circle cx="405.3" cy="153.7" r="1.23" fill="#0c0cc4"/>
<circle cx="404.5" cy="151.6" r="1.23" fill="#0c0cc4"/>
<circle cx="412.9" cy="152.9" r="1.23" fill="#0c0cc4"/>
<circle cx="418.1" cy="156.5" r="1.23" fill="#0c0cc4"/>
<circle cx="418.1" cy="160.9" r="1.23" fill="#0c0cc4"/>
<circle cx="421.7" cy="160.1" r="1.23" fill="#0c0cc4"/>
<circle cx="424.5" cy="160.9" r="1.23" fill="#0c0cc4"/>
<circle cx="421.3" cy="160.7" r="1.23" fill="#0c0cc4"/>
<circle cx="429.2" cy="162.0" r="1.23" fill="#0c0cc4"/>
<circle cx="429.8" cy="169.9" r="1.23" fill="#0c0cc4"/>
<circle cx="433.1" cy="170.6" r="1.23" fill="#0c0cc4"/>
<circle cx="440.3" cy="169.9" r="1.23" fill="#0c0cc4"/>
<circle cx="435.7" cy="171.9" r="1.23" fill="#0c0cc4"/>
<circle cx="442.5" cy="181.9" r="1.07" fill="none" stroke="#0c0cc4" stroke-width="0.9"/>
<circle cx="446.7" cy="182.6" r="1.23" fill="#0c0cc4"/>
<circle cx="453.8" cy="179.1" r="1.23" fill="#0c0cc4"/>
<circle cx="453.0" cy="183.3" r="1.23" fill="#0c0cc4"/>
<circle cx="456.3" cy="195.9" r="1.23" fill="#0c0cc4"/>
<circle cx="461.5" cy="195.9" r="1.23" fill="#0c0cc4"/>
<circle cx="461.1" cy="200.5" r="0.74" fill="#0c0cc4"/>
<circle cx="467.8" cy="199.0" r="1.23" fill="#0c0cc4"/>
<path fill="none" stroke="#111" stroke-width="1.25" stroke-linejoin="round" d="M367.50,143.10 C368.75,143.12 372.42,143.02 375.00,143.20 C377.58,143.38 379.83,143.67 383.00,144.20 C386.17,144.73 390.83,145.43 394.00,146.40 C397.17,147.37 399.67,148.93 402.00,150.00 C404.33,151.07 405.98,151.85 408.00,152.80 C410.02,153.75 412.10,154.68 414.10,155.70 C416.10,156.72 418.02,157.85 420.00,158.90 C421.98,159.95 424.37,161.02 426.00,162.00 C427.63,162.98 427.80,163.33 429.80,164.80 C431.80,166.27 435.05,168.72 438.00,170.80 C440.95,172.88 444.67,175.38 447.50,177.30 C450.33,179.22 452.55,180.72 455.00,182.30 C457.45,183.88 461.00,186.05 462.20,186.80"/>
<path fill="none" stroke="#000" stroke-width="1.15" stroke-dasharray="1.2 0.45" d="M367.50,143.10 C368.75,143.15 372.42,143.15 375.00,143.40 C377.58,143.65 379.83,144.00 383.00,144.60 C386.17,145.20 390.83,145.97 394.00,147.00 C397.17,148.03 399.67,149.67 402.00,150.80 C404.33,151.93 405.98,152.77 408.00,153.80 C410.02,154.83 412.10,155.87 414.10,157.00 C416.10,158.13 418.35,159.57 420.00,160.60 C421.65,161.63 422.60,162.23 424.00,163.20 C425.40,164.17 426.57,164.88 428.40,166.40 C430.23,167.92 432.90,170.45 435.00,172.30 C437.10,174.15 438.83,175.55 441.00,177.50 C443.17,179.45 445.63,181.92 448.00,184.00 C450.37,186.08 452.88,187.88 455.20,190.00 C457.52,192.12 460.78,195.58 461.90,196.70"/>
</g>
<path d="M377.40 231.5v-1.6M377.40 142.8v1.6" stroke="#333" stroke-width="0.9"/>
<text transform="translate(377.40 240.15) scale(1 1.08)" font-size="8.3" text-anchor="middle">5</text>
<path d="M403.92 231.5v-1.6M403.92 142.8v1.6" stroke="#333" stroke-width="0.9"/>
<text transform="translate(403.92 240.15) scale(1 1.08)" font-size="8.3" text-anchor="middle">10</text>
<path d="M430.45 231.5v-1.6M430.45 142.8v1.6" stroke="#333" stroke-width="0.9"/>
<text transform="translate(430.45 240.15) scale(1 1.08)" font-size="8.3" text-anchor="middle">15</text>
<path d="M456.98 231.5v-1.6M456.98 142.8v1.6" stroke="#333" stroke-width="0.9"/>
<text transform="translate(456.98 240.15) scale(1 1.08)" font-size="8.3" text-anchor="middle">20</text>
<path d="M483.50 231.5v-1.6M483.50 142.8v1.6" stroke="#333" stroke-width="0.9"/>
<text transform="translate(483.50 240.15) scale(1 1.08)" font-size="8.3" text-anchor="middle">25</text>
<path d="M367.0 220.00h1.6M483.5 220.00h-1.6" stroke="#333" stroke-width="0.9"/>
<text transform="translate(365.40 223.17) scale(1 1.08)" font-size="8.3" text-anchor="end">0.98</text>
<path d="M367.0 200.37h1.6M483.5 200.37h-1.6" stroke="#333" stroke-width="0.9"/>
<text transform="translate(365.40 203.54) scale(1 1.08)" font-size="8.3" text-anchor="end">0.985</text>
<path d="M367.0 180.73h1.6M483.5 180.73h-1.6" stroke="#333" stroke-width="0.9"/>
<text transform="translate(365.40 183.91) scale(1 1.08)" font-size="8.3" text-anchor="end">0.99</text>
<path d="M367.0 161.10h1.6M483.5 161.10h-1.6" stroke="#333" stroke-width="0.9"/>
<text transform="translate(365.40 164.27) scale(1 1.08)" font-size="8.3" text-anchor="end">0.995</text>
<text transform="translate(425.25 136.24) scale(1 1.1)" font-size="9.7" text-anchor="middle">MR T2</text>
<text transform="translate(425.25 248.44) scale(1 1.1)" font-size="9.7" text-anchor="middle">CR</text>
<text transform="translate(341.19 187.20) rotate(-90) scale(1 1.1)" x="0" y="0" font-size="9.7" text-anchor="middle">Q</text>
</svg></div></body></html>
